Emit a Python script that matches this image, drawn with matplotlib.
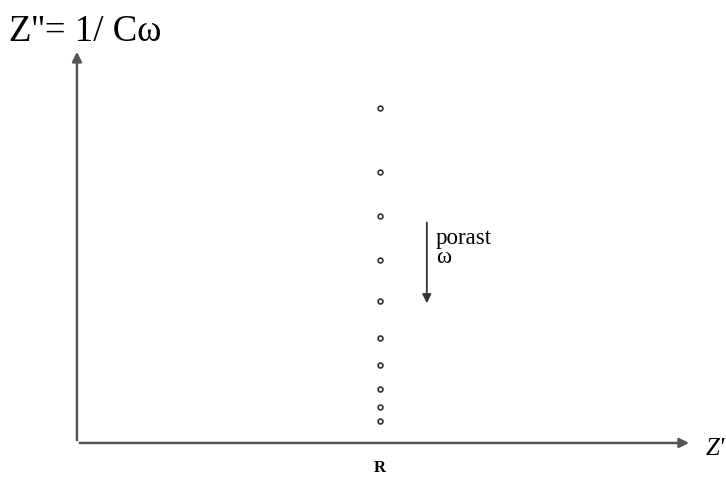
import numpy as np
import matplotlib.pyplot as plt

# Nyquist plot of an ideal capacitor in series with R (arbitrary units)
R = 1.0
z_imag = [9.9, 8.0, 6.7, 5.4, 4.2, 3.1, 2.3, 1.6, 1.06, 0.65]
z_real = [R] * len(z_imag)

fig = plt.figure(figsize=(7.26, 4.81), dpi=100)
ax = fig.add_axes([0.106, 0.077, 0.847, 0.819])
ax.set_xlim(0, 2.03)
ax.set_ylim(0, 11.65)
for s in ax.spines.values():
    s.set_visible(False)
ax.set_xticks([])
ax.set_yticks([])

# axes with arrow heads
ax.annotate('', xy=(1.0, 0), xytext=(0, 0), xycoords='axes fraction',
            arrowprops=dict(arrowstyle='-|>', color='#555555', lw=1.8,
                            mutation_scale=14))
ax.annotate('', xy=(0, 1.0), xytext=(0, 0), xycoords='axes fraction',
            arrowprops=dict(arrowstyle='-|>', color='#555555', lw=1.8,
                            mutation_scale=14))

ax.plot(z_real, z_imag, 'o', mfc='none', mec='#333333', ms=3.5, mew=1.2,
        clip_on=False)

# frequency arrow
ax.annotate('', xy=(1.155, 4.05), xytext=(1.155, 6.6),
            arrowprops=dict(arrowstyle='-|>', color='#333333', lw=1.3,
                            mutation_scale=13))
ax.text(1.185, 5.8, 'porast\nω', fontsize=16.5, family='Liberation Serif',
        va='center', ha='left', linespacing=0.9)

ax.text(R, -0.72, 'R', fontsize=12, family='Liberation Serif',
        fontweight='bold', ha='center', va='center')
fig.text(0.012, 0.935, "Z''= 1/ Cω", fontsize=26.5, family='Liberation Serif',
         va='center', ha='left')
fig.text(0.972, 0.066, "Z'", fontsize=18, family='Liberation Serif',
         va='center', ha='left', style='italic')

fig.savefig('out.png', dpi=100)
